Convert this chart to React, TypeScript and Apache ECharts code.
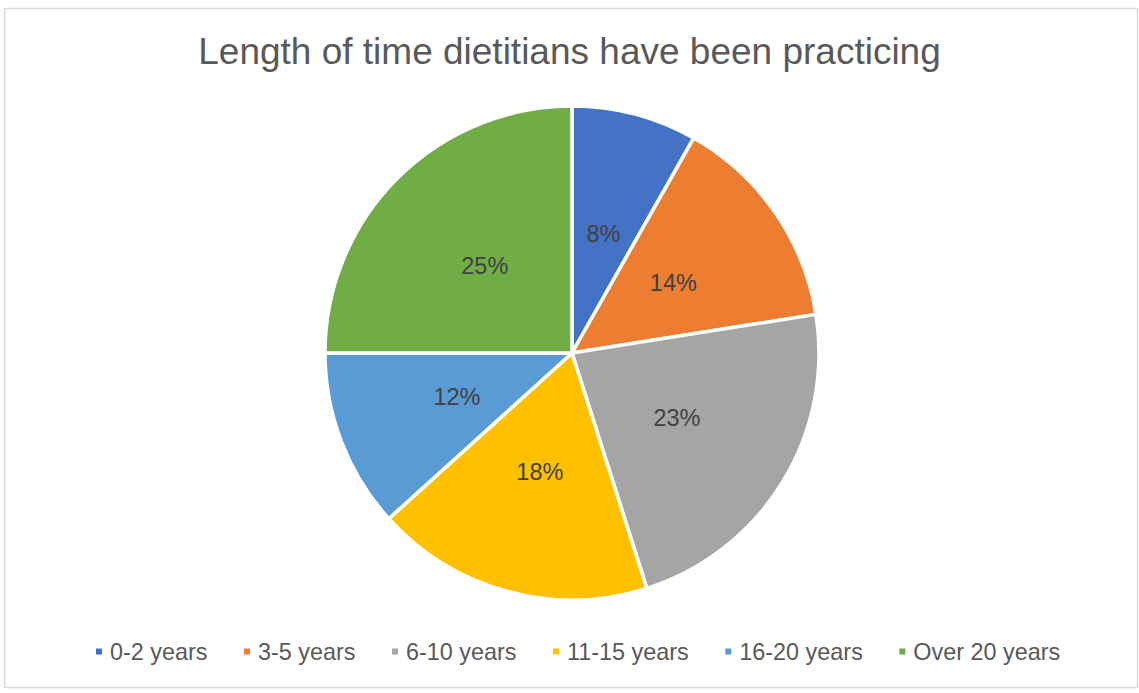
import React, { useEffect, useRef } from "react";
import * as echarts from "echarts";

const categories = ["0-2 years", "3-5 years", "6-10 years", "11-15 years", "16-20 years", "Over 20 years"];
// underlying shares (percent), labels show them rounded
const values = [8.2, 14.3, 22.6, 18.2, 11.7, 25.0];
const colors = ["#4472C4", "#ED7D31", "#A5A5A5", "#FFC000", "#5B9BD5", "#70AD47"];
const titleText = "Length of time dietitians have been practicing";

const CX = 572;
const CY = 353;

export default function App() {
  const ref = useRef<HTMLDivElement>(null);
  useEffect(() => {
    if (!ref.current) return;
    const chart = echarts.init(ref.current, null, { renderer: "svg" });
    const font = "'Liberation Sans', Arial, sans-serif";
    chart.setOption({
      animation: false,
      backgroundColor: "#ffffff",
      color: colors,
      title: {
        text: titleText,
        left: "center",
        top: 33,
        padding: 0,
        textStyle: { fontFamily: font, fontSize: 37, fontWeight: "normal", color: "#595959" },
      },
      legend: {
        left: 94,
        top: 640,
        padding: 0,
        itemGap: 34.5,
        itemWidth: 8,
        itemHeight: 8,
        icon: "rect",
        data: categories,
        textStyle: { fontFamily: font, fontSize: 23.4, color: "#595959", padding: [0, 0, 0, 2] },
      },
      graphic: [
        {
          type: "rect",
          shape: { x: 4.5, y: 8.5, width: 1133, height: 679 },
          style: { fill: "none", stroke: "#d9d9d9", lineWidth: 1.5 },
          silent: true,
        },
      ],
      series: [
        {
          type: "pie",
          center: [CX, CY],
          radius: [0, 247],
          startAngle: 90,
          clockwise: true,
          data: categories.map((c, i) => ({ name: c, value: values[i] })),
          itemStyle: { borderColor: "#ffffff", borderWidth: 3.5 },
          label: {
            show: true,
            position: "inside",
            formatter: (p: any) => `${Math.round(p.percent)}%`,
            fontFamily: font,
            fontSize: 23.5,
            color: "#404040",
          },
          labelLayout: (params: any) => {
            const r = params.labelRect;
            const lx = r.x + r.width / 2;
            const ly = r.y + r.height / 2;
            const k = 0.975;
            return { x: CX + (lx - CX) * k, y: CY + (ly - CY) * k };
          },
          labelLine: { show: false },
          emphasis: { disabled: true },
        },
      ],
    });
    return () => chart.dispose();
  }, []);
  return (
    <div
      ref={ref}
      style={{ position: "fixed", left: 0, top: 0, width: 1139, height: 693 }}
    />
  );
}
